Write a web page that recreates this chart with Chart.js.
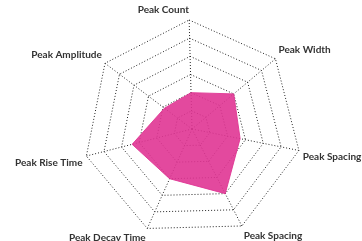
<!DOCTYPE html>
<html>
<head>
<meta charset="utf-8">
<script src="https://cdn.jsdelivr.net/npm/chart.js@4/dist/chart.umd.min.js"></script>
<style>
  html, body { margin: 0; padding: 0; background: #fff; overflow: hidden; }
  #wrap { position: absolute; left: 1px; top: -1px; width: 382px; height: 250px; }
</style>
</head>
<body>
<div id="wrap"><canvas id="radarChart"></canvas></div>
<script>
// Axis labels, clockwise from the top
const axes = ["Peak Count", "Peak Width", "Peak Spacing", "Peak Spacing", "Peak Decay Time", "Peak Rise Time", "Peak Amplitude"];
// Values on a 0-6 scale
const scores = [2, 3, 2.7, 4, 3, 3.4, 1.9];
const scaleMax = 6;

const ctx = document.getElementById('radarChart').getContext('2d');
new Chart(ctx, {
  type: 'radar',
  data: {
    labels: axes,
    datasets: [{
      data: scores,
      backgroundColor: 'rgba(224, 53, 147, 0.9)',
      borderColor: 'rgba(224, 53, 147, 0.9)',
      borderWidth: 1,
      pointRadius: 0,
      fill: true
    }]
  },
  options: {
    responsive: true,
    maintainAspectRatio: false,
    animation: false,
    plugins: { legend: { display: false }, tooltip: { enabled: false } },
    scales: {
      r: {
        min: 0,
        max: scaleMax,
        startAngle: -1.5,
        ticks: { display: false, stepSize: 1 },
        grid: { color: '#222', lineWidth: 1 },
        border: { dash: [1, 2] },
        angleLines: { color: '#222', lineWidth: 1, borderDash: [1, 2] },
        pointLabels: {
          color: '#333',
          padding: 4,
          font: { family: 'Lato', weight: 'bold', size: 10 }
        }
      }
    }
  }
});
</script>
</body>
</html>
